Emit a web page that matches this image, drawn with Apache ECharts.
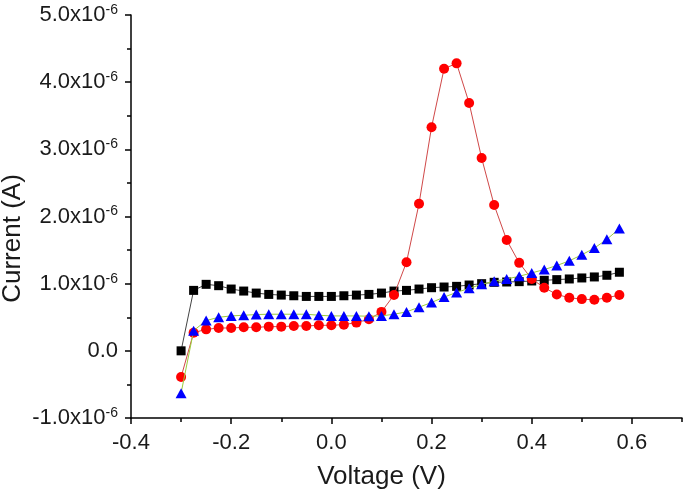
<!DOCTYPE html>
<html>
<head>
<meta charset="utf-8">
<script src="https://cdn.jsdelivr.net/npm/echarts@6/dist/echarts.min.js"></script>
<style>html,body{margin:0;padding:0;background:#fff}#c{width:685px;height:492px}</style>
</head>
<body>
<div id="c"></div>
<script>
// Voltage (V)
const voltage = [-0.3,-0.275,-0.25,-0.225,-0.2,-0.175,-0.15,-0.125,-0.1,-0.075,-0.05,-0.025,0,0.025,0.05,0.075,0.1,0.125,0.15,0.175,0.2,0.225,0.25,0.275,0.3,0.325,0.35,0.375,0.4,0.425,0.45,0.475,0.5,0.525,0.55,0.575];
// Current in units of 1e-6 A
const blackSquares = [0.0,0.90,0.99,0.97,0.92,0.89,0.86,0.84,0.83,0.82,0.81,0.81,0.81,0.82,0.83,0.84,0.86,0.89,0.90,0.92,0.94,0.95,0.96,0.98,1.00,1.02,1.025,1.03,1.04,1.05,1.06,1.07,1.085,1.10,1.125,1.17];
const redCircles = [-0.39,0.27,0.32,0.34,0.34,0.35,0.35,0.36,0.36,0.37,0.37,0.38,0.38,0.39,0.42,0.47,0.58,0.83,1.32,2.19,3.33,4.20,4.28,3.69,2.87,2.17,1.65,1.31,1.07,0.94,0.84,0.79,0.77,0.76,0.79,0.83];
const blueTriangles = [-0.63,0.30,0.45,0.50,0.52,0.53,0.54,0.545,0.545,0.545,0.545,0.53,0.52,0.52,0.52,0.515,0.52,0.545,0.58,0.65,0.72,0.80,0.87,0.93,0.99,1.035,1.07,1.11,1.16,1.21,1.27,1.34,1.43,1.53,1.66,1.82];
const xMajorTicks = [-0.4,-0.2,0.0,0.2,0.4,0.6];
const xMinorTicks = [-0.3,-0.1,0.1,0.3,0.5,0.7];
const yTickExponent = '-6';

const pair = ys => voltage.map((v,i)=>[v, ys[i]]);
const FONT = 'Liberation Sans, Arial, sans-serif';
const TXT = '#1a1a1a';

const chart = echarts.init(document.getElementById('c'), null, {renderer:'canvas'});
chart.setOption({
  animation:false,
  backgroundColor:'#fff',
  grid:{left:131, right:3, top:15, bottom:74, outerBoundsMode:'none', containLabel:false},
  xAxis:[{
    type:'value', min:-0.4, max:0.7, position:'bottom',
    name:'Voltage (V)', nameLocation:'middle', nameGap:46, nameMoveOverlap:false,
    nameTextStyle:{fontFamily:FONT, fontSize:26, color:TXT, padding:[0,50,0,0]},
    axisLine:{show:true, onZero:false, lineStyle:{color:'#000', width:1.5}},
    axisTick:{show:true, length:6, lineStyle:{color:'#000', width:1.5}, customValues:xMajorTicks},
    axisLabel:{fontFamily:FONT, fontSize:22, color:TXT, margin:14, customValues:xMajorTicks, formatter:v=>v.toFixed(1)},
    splitLine:{show:false}
  },{
    type:'value', min:-0.4, max:0.7, position:'bottom', offset:0,
    axisLine:{show:false, onZero:false},
    axisTick:{show:true, length:4, lineStyle:{color:'#000', width:1.5}, customValues:xMinorTicks},
    axisLabel:{show:false},
    splitLine:{show:false}
  }],
  yAxis:{
    type:'value', min:-1, max:5, interval:1,
    name:'Current (A)', nameLocation:'middle', nameGap:105, nameMoveOverlap:false,
    nameTextStyle:{fontFamily:FONT, fontSize:26, color:TXT, padding:[0,44,0,0]},
    axisLine:{show:true, onZero:false, lineStyle:{color:'#000', width:1.5}},
    axisTick:{show:true, length:6, lineStyle:{color:'#000', width:1.5}},
    minorTick:{show:true, splitNumber:2, length:4, lineStyle:{color:'#000', width:1.5}},
    axisLabel:{
      margin:13,
      formatter:v=> v===0 ? '{m|0.0}' : '{m|'+v.toFixed(1)+'x10}{s|'+yTickExponent+'}',
      rich:{
        m:{fontFamily:FONT, fontSize:22, color:TXT},
        s:{fontFamily:FONT, fontSize:14, color:TXT, verticalAlign:'top', padding:[0,0,10,0]}
      }
    },
    splitLine:{show:false}
  },
  series:[
    {type:'line', data:pair(blackSquares), symbol:'rect', symbolSize:[9,9],
     itemStyle:{color:'#000'}, lineStyle:{color:'#444', width:1}, z:2},
    {type:'line', data:pair(redCircles), symbol:'circle', symbolSize:10,
     itemStyle:{color:'#ff0000'}, lineStyle:{color:'#d04848', width:1}, z:3},
    {type:'line', data:pair(blueTriangles), symbol:'triangle', symbolSize:[11,10],
     itemStyle:{color:'#0000ff'}, lineStyle:{color:'#9ccc3c', width:1}, z:4}
  ]
});
</script>
</body>
</html>
